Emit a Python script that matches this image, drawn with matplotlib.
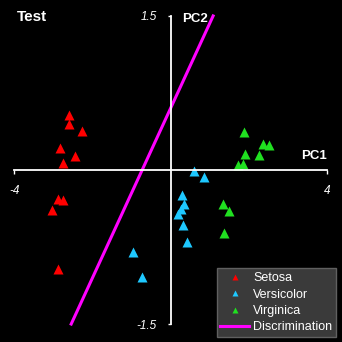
import matplotlib
matplotlib.use("Agg")
import numpy as np
import matplotlib.pyplot as plt

plt.rcParams['font.family'] = ['Liberation Sans', 'DejaVu Sans']

# PCA scores
setosa_x = [-2.60, -2.60, -2.26, -2.83, -2.44, -2.75, -2.88, -2.75, -3.03, -2.88]
setosa_y = [0.54, 0.45, 0.38, 0.21, 0.14, 0.07, -0.28, -0.29, -0.39, -0.96]
versi_x = [0.60, 0.86, 0.29, 0.35, 0.27, 0.19, 0.32, 0.42, -0.96, -0.73]
versi_y = [-0.01, -0.07, -0.24, -0.33, -0.38, -0.43, -0.54, -0.70, -0.80, -1.04]
virg_x = [1.88, 2.37, 2.52, 1.91, 2.26, 1.73, 1.85, 1.34, 1.50, 1.37]
virg_y = [0.37, 0.25, 0.24, 0.16, 0.15, 0.05, 0.06, -0.33, -0.40, -0.61]
disc_x = [-2.54, 1.09]
disc_y = [-1.50, 1.50]

fig = plt.figure(figsize=(3.42, 3.42), dpi=100)
fig.patch.set_facecolor('black')
fig.patch.set_edgecolor('#b0b0b0')
fig.patch.set_linewidth(2)
ax = fig.add_axes([0, 0, 1, 1])
ax.set_facecolor('black')

ax.plot(setosa_x, setosa_y, '^', color='#ff0000', ms=7, mec='none', label='Setosa')
ax.plot(versi_x, versi_y, '^', color='#1ec8ff', ms=7, mec='none', label='Versicolor')
ax.plot(virg_x, virg_y, '^', color='#20e020', ms=7, mec='none', label='Virginica')
ax.plot(disc_x, disc_y, color='#ff00ff', lw=2.2, label='Discrimination')

ax.set_xlim(-4.361, 4.386)
ax.set_ylim(-1.675, 1.655)

for s in ['top', 'right']:
    ax.spines[s].set_visible(False)
ax.spines['left'].set_position('zero')
ax.spines['bottom'].set_position('zero')
ax.spines['left'].set_bounds(-1.5, 1.5)
ax.spines['bottom'].set_bounds(-4, 4)
for s in ['left', 'bottom']:
    ax.spines[s].set_color('white')
    ax.spines[s].set_linewidth(1.3)

ax.set_xticks([-4, 4])
ax.set_xticklabels(['-4', '4'])
ax.set_yticks([-1.5, 1.5])
ax.set_yticklabels(['-1.5', '1.5'])
ax.tick_params(axis='x', colors='white', length=3, width=1, pad=8, labelsize=8.5)
ax.tick_params(axis='y', colors='white', length=2, width=1, pad=8, labelsize=8.5)
for t in ax.get_xticklabels() + ax.get_yticklabels():
    t.set_fontstyle('italic')

fig.text(17/342, 1 - 17/342, 'Test', color='white', fontsize=11, fontweight='bold',
         ha='left', va='center')
fig.text(182/342, 1 - 19/342, 'PC2', color='white', fontsize=9.5, fontweight='bold',
         ha='left', va='center')
fig.text(327/342, 1 - 156/342, 'PC1', color='white', fontsize=9.5, fontweight='bold',
         ha='right', va='center')

leg = ax.legend(loc='lower right', bbox_to_anchor=(0.982, 0.0146),
                bbox_transform=fig.transFigure, borderaxespad=0,
                facecolor='#3a3a3a', edgecolor='#606060', framealpha=1,
                fancybox=False, labelcolor='white', markerscale=0.7,
                handlelength=2.3, handletextpad=0.3, borderpad=0.3,
                labelspacing=0.35, prop={'size': 9})

fig.savefig('out.png', dpi=100, facecolor='black', edgecolor='#b0b0b0')
